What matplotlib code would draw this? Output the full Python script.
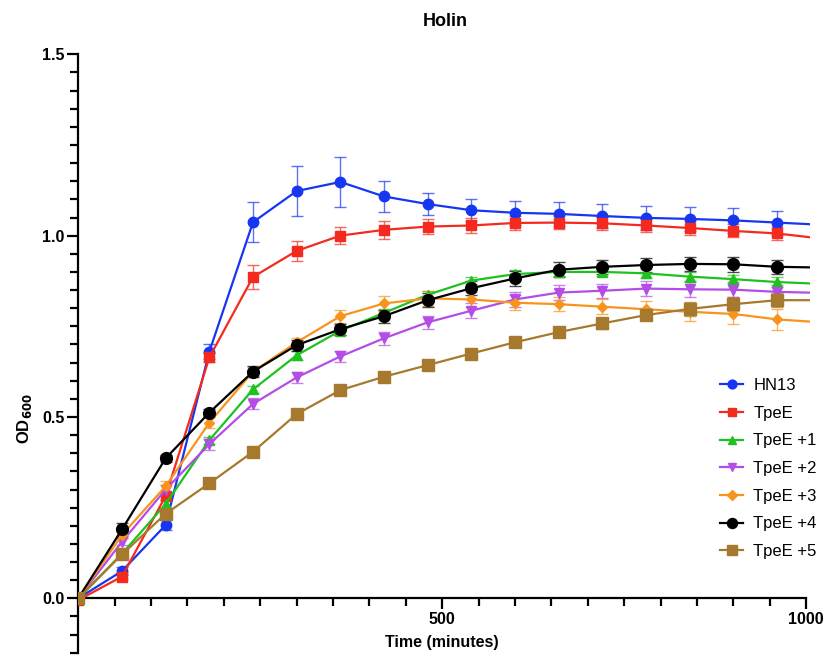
import matplotlib
matplotlib.use("Agg")
import matplotlib.pyplot as plt
from matplotlib.ticker import MultipleLocator, FixedLocator
import numpy as np

plt.rcParams['font.family'] = ['Liberation Sans', 'DejaVu Sans']

# Sampling times (minutes); the final reading closes the curve without a marker
time_min = [0, 60, 120, 180, 240, 300, 360, 420, 480, 540, 600, 660, 720,
            780, 840, 900, 960, 1020]

labels = ["HN13", "TpeE", "TpeE +1", "TpeE +2", "TpeE +3", "TpeE +4", "TpeE +5"]

hn13 = [0.0, 0.075, 0.202, 0.680, 1.037, 1.123, 1.148, 1.108, 1.087, 1.070,
        1.063, 1.060, 1.054, 1.049, 1.046, 1.042, 1.036, 1.030]
tpee = [-0.005, 0.060, 0.282, 0.664, 0.886, 0.958, 1.000, 1.016, 1.025, 1.028,
        1.035, 1.036, 1.034, 1.028, 1.021, 1.013, 1.006, 0.992]
tpee1 = [0.0, 0.123, 0.260, 0.436, 0.576, 0.670, 0.738, 0.787, 0.837, 0.876,
         0.894, 0.900, 0.900, 0.896, 0.887, 0.880, 0.872, 0.867]
tpee2 = [0.0, 0.156, 0.300, 0.425, 0.536, 0.609, 0.667, 0.717, 0.761, 0.793,
         0.824, 0.843, 0.848, 0.854, 0.852, 0.851, 0.845, 0.842]
tpee3 = [0.0, 0.175, 0.309, 0.484, 0.625, 0.706, 0.778, 0.813, 0.827, 0.824,
         0.815, 0.811, 0.804, 0.797, 0.790, 0.784, 0.769, 0.761]
tpee4 = [0.0, 0.190, 0.386, 0.512, 0.625, 0.698, 0.742, 0.778, 0.822, 0.855,
         0.882, 0.906, 0.914, 0.919, 0.922, 0.921, 0.914, 0.912]
tpee5 = [0.0, 0.121, 0.233, 0.317, 0.404, 0.508, 0.574, 0.611, 0.643, 0.675,
         0.706, 0.734, 0.758, 0.781, 0.798, 0.811, 0.822, 0.822]

# Standard deviations for the marked readings (0-960 min)
hn13_sd = [0, 0.012, 0.015, 0.02, 0.055, 0.07, 0.068, 0.042, 0.03, 0.03,
           0.033, 0.034, 0.033, 0.033, 0.032, 0.035, 0.033]
tpee_sd = [0, 0.008, 0.01, 0.012, 0.033, 0.028, 0.024, 0.025, 0.02, 0.02,
           0.02, 0.018, 0.018, 0.018, 0.018, 0.018, 0.018]
tpee1_sd = [0, 0.01, 0.01, 0.01, 0.01, 0.012, 0.012, 0.012, 0.01, 0.01,
            0.012, 0.012, 0.012, 0.012, 0.012, 0.012, 0.015]
tpee2_sd = [0, 0.01, 0.012, 0.015, 0.015, 0.015, 0.015, 0.018, 0.018, 0.02,
            0.02, 0.02, 0.02, 0.02, 0.02, 0.02, 0.02]
tpee3_sd = [0, 0.01, 0.015, 0.015, 0.012, 0.012, 0.018, 0.02, 0.02, 0.02,
            0.02, 0.02, 0.02, 0.022, 0.025, 0.028, 0.03]
tpee4_sd = [0, 0.018, 0.01, 0.01, 0.015, 0.015, 0.015, 0.018, 0.02, 0.02,
            0.02, 0.02, 0.02, 0.02, 0.02, 0.02, 0.02]
tpee5_sd = [0, 0.01, 0.01, 0.008, 0.008, 0.008, 0.008, 0.008, 0.008, 0.01,
            0.01, 0.012, 0.015, 0.015, 0.02, 0.02, 0.02]

series = [hn13, tpee, tpee1, tpee2, tpee3, tpee4, tpee5]
errors = [hn13_sd, tpee_sd, tpee1_sd, tpee2_sd, tpee3_sd, tpee4_sd, tpee5_sd]
colors = ["#1636F2", "#F42A1E", "#1EC21E", "#B44CE6", "#F7941E", "#000000", "#A6792E"]
markers = ["o", "s", "^", "v", "D", "o", "s"]
msizes = [7.5, 7.5, 7.5, 7.5, 5.5, 8.5, 8.5]

W, H = 831, 655
fig = plt.figure(figsize=(W / 100, H / 100), dpi=100)
ax = fig.add_axes([78.3 / W, (H - 652.7) / H, 731.6 / W, 598.4 / H])

n_marked = len(hn13_sd)
for y, e, c, m, ms, lab in zip(series, errors, colors, markers, msizes, labels):
    ax.errorbar(time_min[:n_marked], y[:n_marked], yerr=e, fmt="none",
                ecolor=c, alpha=0.7, elinewidth=1.0, capsize=4, capthick=1.0,
                zorder=2)
    ax.plot(time_min, y, color=c, lw=1.6, marker=m, ms=ms,
            markevery=slice(0, n_marked), label=lab, zorder=3)

ax.set_xlim(0, 1005)
ax.set_ylim(-0.15, 1.5)

for s in ["top", "right"]:
    ax.spines[s].set_visible(False)
ax.spines["bottom"].set_position(("data", 0))
ax.spines["bottom"].set_bounds(0, 1000)
ax.spines["left"].set_bounds(-0.15, 1.5)
for s in ["bottom", "left"]:
    ax.spines[s].set_linewidth(1.6)

ax.xaxis.set_major_locator(FixedLocator([500, 1000]))
ax.xaxis.set_minor_locator(FixedLocator(list(range(50, 1000, 50))))
ax.yaxis.set_major_locator(FixedLocator([0.0, 0.5, 1.0, 1.5]))
ax.yaxis.set_minor_locator(MultipleLocator(0.05))
ax.set_yticklabels(["0.0", "0.5", "1.0", "1.5"])
ax.tick_params(which="major", length=8, width=1.6, direction="out",
               labelsize=11.5, pad=2)
ax.tick_params(which="minor", length=5.5, width=1.6, direction="out")
for lbl in ax.get_xticklabels() + ax.get_yticklabels():
    lbl.set_fontweight("bold")

fig.text(445 / W, 1 - 22 / H, "Holin", ha="center", va="center",
         fontsize=13, fontweight="bold")
fig.text(441.7 / W, 1 - 643 / H, "Time (minutes)", ha="center", va="center",
         fontsize=11.5, fontweight="bold")
fig.text(25 / W, 1 - 419 / H, "OD$_{\\mathbf{600}}$", ha="center", va="center",
         rotation=90, fontsize=12, fontweight="bold")

leg = ax.legend(loc="upper left", bbox_to_anchor=(705 / W, 1 - 363 / H),
                bbox_transform=fig.transFigure, frameon=False, fontsize=12,
                handlelength=1.4, handletextpad=0.6, labelspacing=0.76,
                markerscale=0.85)

fig.savefig("out.png", dpi=100)
